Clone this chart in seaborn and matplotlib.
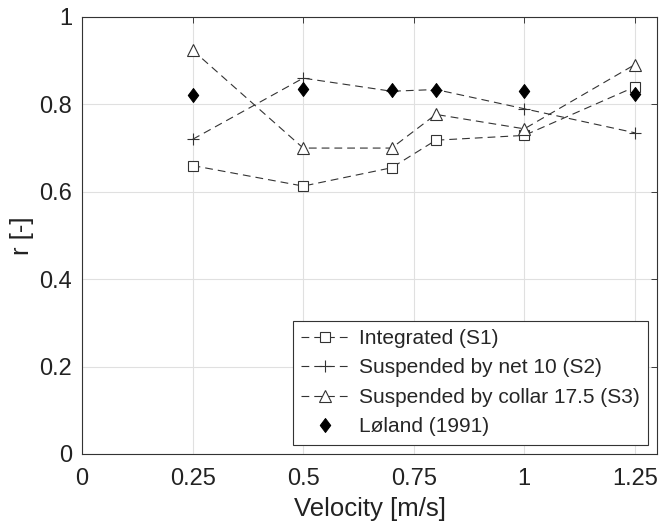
import matplotlib
matplotlib.use("Agg")
import matplotlib.pyplot as plt
import seaborn as sns

# ---------------------------
# Data
# ---------------------------
velocity = [0.25, 0.5, 0.7, 0.8, 1.0, 1.25]
r_s1 = [0.660, 0.613, 0.655, 0.718, 0.729, 0.840]
r_s2 = [0.720, 0.860, 0.830, 0.834, 0.790, 0.735]
r_s3 = [0.924, 0.700, 0.700, 0.777, 0.744, 0.891]
r_loland = [0.821, 0.836, 0.832, 0.833, 0.831, 0.823]

labels = ["Integrated (S1)", "Suspended by net 10 (S2)",
          "Suspended by collar 17.5 (S3)", "Løland (1991)"]
x_ticks = [0, 0.25, 0.5, 0.75, 1, 1.25]
x_tick_labels = ["0", "0.25", "0.5", "0.75", "1", "1.25"]
y_ticks = [0, 0.2, 0.4, 0.6, 0.8, 1]
y_tick_labels = ["0", "0.2", "0.4", "0.6", "0.8", "1"]

# ---------------------------
# Style
# ---------------------------
sns.set_style("whitegrid")
plt.rcParams['font.family'] = ['Liberation Sans', 'DejaVu Sans']

fig, ax = plt.subplots(figsize=(6.62, 5.30), dpi=100)
fig.subplots_adjust(left=0.124, right=0.9924, top=0.968, bottom=0.1434)

line_kw = dict(color="#333333", linestyle=(0, (7, 4.5)), linewidth=0.8,
               markerfacecolor="white", markeredgecolor="#333333",
               markeredgewidth=0.8, ax=ax)

# diamond a bit wider than matplotlib's thin diamond
diamond = [(0, 1), (0.75, 0), (0, -1), (-0.75, 0), (0, 1)]

sns.lineplot(x=velocity, y=r_s1, marker="s", markersize=6.5, label=labels[0], **line_kw)
sns.lineplot(x=velocity, y=r_s2, marker="+", markersize=8, label=labels[1], **line_kw)
sns.lineplot(x=velocity, y=r_s3, marker="^", markersize=9, label=labels[2], **line_kw)
sns.lineplot(x=velocity, y=r_loland, marker=diamond, markersize=10, linestyle="",
             color="black", markerfacecolor="black", markeredgecolor="black",
             label=labels[3], ax=ax)

# ---------------------------
# Axes
# ---------------------------
ax.set_xlim(0, 1.30)
ax.set_ylim(0, 1)
ax.set_xticks(x_ticks)
ax.set_xticklabels(x_tick_labels)
ax.set_yticks(y_ticks)
ax.set_yticklabels(y_tick_labels)
ax.set_xlabel("Velocity [m/s]", fontsize=18.5, color="#222222", labelpad=5)
ax.set_ylabel("r [-]", fontsize=18.5, color="#222222", labelpad=4)
ax.tick_params(axis="both", labelsize=17, colors="#222222", direction="in",
               length=4, top=True, right=True, width=0.6)
ax.tick_params(axis="x", pad=10)
ax.tick_params(axis="y", pad=7)
ax.grid(True, color="#e0e0e0", linewidth=0.8)
for sp in ax.spines.values():
    sp.set_color("#333333")
    sp.set_linewidth(0.8)

leg = ax.legend(loc="lower right", fontsize=15, frameon=True, fancybox=False,
                framealpha=1, edgecolor="#333333", handlelength=2.25,
                borderpad=0.4, labelspacing=0.5, handletextpad=0.5,
                borderaxespad=0.45)
leg.get_frame().set_linewidth(0.8)

plt.savefig("out.png", dpi=100)
